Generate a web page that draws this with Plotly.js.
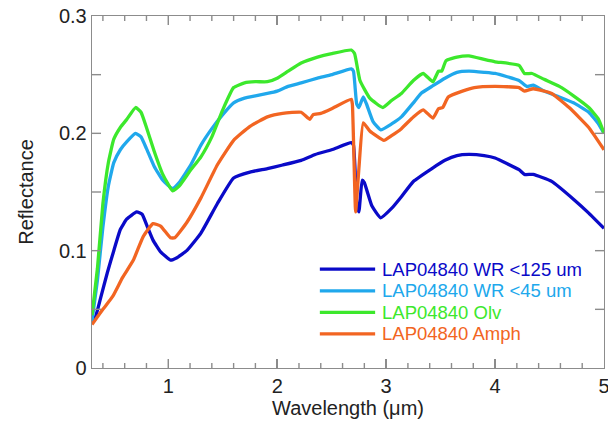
<!DOCTYPE html>
<html><head><meta charset="utf-8">
<script src="https://cdn.plot.ly/plotly-3.0.1.min.js"></script>
<style>html,body{margin:0;padding:0;background:#fff;}#chart{width:608px;height:423px;}</style>
</head><body><div id="chart"></div>
<script>
const wr125X = [0.30,0.33,0.38,0.44,0.50,0.56,0.62,0.71,0.76,0.81,0.86,0.93,1.02,1.08,1.17,1.30,1.45,1.60,1.75,1.91,2.05,2.22,2.35,2.50,2.68,2.70,2.73,2.75,2.78,2.80,2.87,2.95,3.05,3.14,3.25,3.42,3.54,3.65,3.76,3.90,4.00,4.22,4.27,4.35,4.52,4.73,4.86,5.00];
const wr125Y = [0.040,0.043,0.060,0.081,0.100,0.118,0.127,0.133,0.131,0.120,0.109,0.099,0.092,0.094,0.100,0.115,0.140,0.162,0.167,0.170,0.173,0.177,0.182,0.186,0.192,0.190,0.140,0.133,0.160,0.158,0.138,0.128,0.136,0.146,0.159,0.170,0.177,0.181,0.182,0.181,0.179,0.169,0.165,0.165,0.159,0.143,0.132,0.119];

const wr45X = [0.30,0.35,0.40,0.45,0.50,0.56,0.62,0.70,0.75,0.80,0.87,0.95,1.04,1.10,1.20,1.30,1.40,1.50,1.60,1.70,1.80,1.91,2.00,2.10,2.22,2.37,2.50,2.68,2.70,2.73,2.75,2.79,2.82,2.88,2.95,3.05,3.14,3.25,3.32,3.42,3.54,3.65,3.76,3.90,4.00,4.22,4.29,4.35,4.45,4.59,4.72,4.86,4.95,5.00];
const wr45Y = [0.040,0.075,0.120,0.155,0.175,0.186,0.193,0.200,0.197,0.187,0.172,0.160,0.153,0.158,0.172,0.190,0.204,0.216,0.226,0.230,0.232,0.234,0.236,0.240,0.243,0.247,0.250,0.255,0.253,0.225,0.222,0.231,0.225,0.210,0.203,0.208,0.214,0.226,0.234,0.240,0.247,0.252,0.253,0.252,0.251,0.245,0.240,0.241,0.236,0.231,0.226,0.218,0.208,0.200];

const olvX = [0.30,0.35,0.40,0.45,0.50,0.56,0.62,0.70,0.75,0.80,0.87,0.95,1.04,1.10,1.20,1.30,1.40,1.50,1.60,1.70,1.80,1.91,2.00,2.10,2.22,2.37,2.50,2.68,2.71,2.76,2.85,2.97,3.05,3.14,3.25,3.34,3.43,3.48,3.51,3.55,3.65,3.76,3.90,4.00,4.22,4.27,4.34,4.45,4.59,4.72,4.86,4.95,5.00];
const olvY = [0.045,0.085,0.140,0.175,0.195,0.205,0.212,0.222,0.218,0.205,0.185,0.165,0.151,0.155,0.168,0.180,0.197,0.220,0.239,0.243,0.244,0.244,0.247,0.253,0.260,0.265,0.268,0.271,0.268,0.245,0.230,0.222,0.228,0.234,0.245,0.251,0.244,0.253,0.253,0.262,0.265,0.266,0.263,0.261,0.258,0.251,0.251,0.246,0.240,0.232,0.222,0.212,0.200];

const amphX = [0.30,0.40,0.49,0.58,0.68,0.77,0.86,0.93,1.02,1.06,1.17,1.30,1.45,1.60,1.75,1.91,2.05,2.22,2.30,2.33,2.40,2.50,2.68,2.69,2.72,2.75,2.79,2.85,2.98,3.05,3.14,3.25,3.34,3.43,3.48,3.52,3.57,3.70,3.81,4.00,4.22,4.27,4.35,4.52,4.68,4.86,5.00];
const amphY = [0.037,0.050,0.061,0.077,0.092,0.112,0.123,0.121,0.111,0.111,0.124,0.145,0.173,0.194,0.206,0.214,0.217,0.218,0.212,0.216,0.217,0.221,0.229,0.225,0.133,0.170,0.209,0.202,0.194,0.198,0.204,0.214,0.220,0.213,0.221,0.222,0.231,0.236,0.239,0.240,0.239,0.236,0.238,0.234,0.222,0.205,0.186];

const names = ['LAP04840 WR &lt;125 um','LAP04840 WR &lt;45 um','LAP04840 Olv','LAP04840 Amph'];
const colors = ['#0a0ac8','#20a8ec','#3ce82c','#f26522'];
const xs = [wr125X, wr45X, olvX, amphX];
const ys = [wr125Y, wr45Y, olvY, amphY];

const FONT = 'Arial, Liberation Sans, sans-serif';
const GRAY = '#8c8c8c';
const X0 = 0.3, X1 = 5, Y0 = 0, Y1 = 0.3;
const traces = xs.map((x,i)=>({
  x: x, y: ys[i], type:'scatter', mode:'lines', name: names[i], showlegend:false,
  line:{color:colors[i], width:3.3, shape:'spline', smoothing:0.4}
}));

// legend drawn as shapes + annotations (paper coordinates)
const legX0 = 0.445, legX1 = 0.553, legTextX = 0.5625;
const legY = [0.281, 0.219, 0.158, 0.097];
const shapes = names.map((n,i)=>({type:'line', xref:'paper', yref:'paper',
  x0:legX0, x1:legX1, y0:legY[i], y1:legY[i], line:{color:colors[i], width:3.3}}));
const annotations = names.map((n,i)=>({xref:'paper', yref:'paper', x:legTextX, y:legY[i],
  xanchor:'left', yanchor:'middle', showarrow:false, text:n,
  font:{family:FONT, size:18.5, color:colors[i]}}));

// inside tick marks on all four sides (paper coordinates); plot area is 512 x 352 px
const PW = 512, PH = 352;
function addXTick(v, len){
  const p = (v - X0) / (X1 - X0), f = len / PH;
  shapes.push({type:'line', xref:'paper', yref:'paper', x0:p, x1:p, y0:0, y1:f, line:{color:GRAY, width:1.4}});
  shapes.push({type:'line', xref:'paper', yref:'paper', x0:p, x1:p, y0:1, y1:1 - f, line:{color:GRAY, width:1.4}});
}
function addYTick(v, len){
  const p = (v - Y0) / (Y1 - Y0), f = len / PW;
  shapes.push({type:'line', xref:'paper', yref:'paper', y0:p, y1:p, x0:0, x1:f, line:{color:GRAY, width:1.4}});
  shapes.push({type:'line', xref:'paper', yref:'paper', y0:p, y1:p, x0:1, x1:1 - f, line:{color:GRAY, width:1.4}});
}
for (let k = 2; k <= 24; k++) { addXTick(k/5, (k % 5 === 0) ? 9 : 5); }
for (let k = 1; k <= 5; k++) { addYTick(k/20, 9); }

const layout = {
  width:608, height:423,
  margin:{l:92, r:4, t:16, b:55},
  paper_bgcolor:'#fff', plot_bgcolor:'#fff',
  font:{family:FONT, size:20, color:'#222'},
  xaxis: {
    range:[X0,X1], tick0:0, dtick:1, ticks:'inside', ticklen:9, tickwidth:1.4, tickcolor:GRAY,
    showline:true, linecolor:GRAY, linewidth:1.3, mirror:'ticks', showgrid:false, zeroline:false,
    ticklabeloverflow:'allow', tickfont:{family:FONT, size:20, color:'#222'},
    title:{text:'Wavelength (\u03bcm)', font:{family:FONT, size:20, color:'#222'}, standoff:2}
  },
  yaxis: {
    range:[Y0,Y1], tick0:0, dtick:0.1, ticks:'inside', ticklen:9, tickwidth:1.4, tickcolor:GRAY,
    showline:true, linecolor:GRAY, linewidth:1.3, mirror:'ticks', showgrid:false, zeroline:false,
    tickfont:{family:FONT, size:20, color:'#222'},
    title:{text:'Reflectance', font:{family:FONT, size:20, color:'#222'}, standoff:20}
  },
  showlegend:false,
  shapes: shapes,
  annotations: annotations
};
Plotly.newPlot('chart', traces, layout, {displayModeBar:false, staticPlot:true});
</script></body></html>
